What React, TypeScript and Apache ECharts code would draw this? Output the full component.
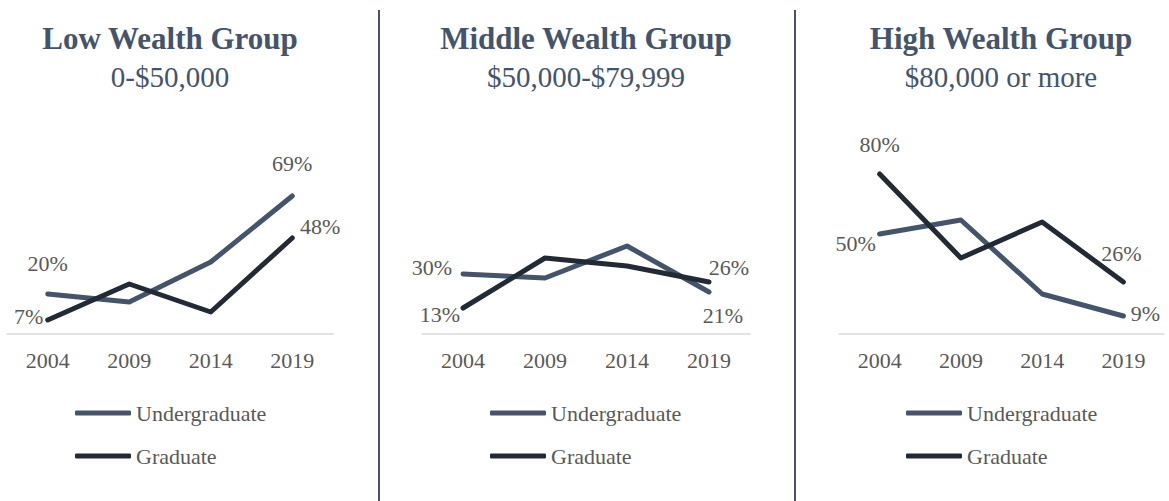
import React, { useEffect, useRef } from "react";
import * as echarts from "echarts";

const years = ["2004", "2009", "2014", "2019"];
const seriesNames = ["Undergraduate", "Graduate"];
const panelTitles = ["Low Wealth Group", "Middle Wealth Group", "High Wealth Group"];
const panelSubtitles = ["0-$50,000", "$50,000-$79,999", "$80,000 or more"];

const lowUndergrad = [20, 16, 36, 69];
const lowGraduate = [7, 25, 11, 48];
const midUndergrad = [30, 28, 44, 21];
const midGraduate = [13, 38, 34, 26];
const highUndergrad = [50, 57, 20, 9];
const highGraduate = [80, 38, 56, 26];

const panelData = [
  [lowUndergrad, lowGraduate],
  [midUndergrad, midGraduate],
  [highUndergrad, highGraduate],
];

// label offsets (style, by panel / series / point index)
const labelOffsets: Record<number, [number, number]>[][] = [
  [
    { 0: [0, -31], 3: [0, -33] },
    { 0: [-19, -4], 3: [28, -12] },
  ],
  [
    { 0: [-31, -7], 3: [14, 23] },
    { 0: [-23, 6], 3: [20, -15] },
  ],
  [
    { 0: [-24, 9], 3: [22, -3] },
    { 0: [0, -30], 3: [-2, -29] },
  ],
];

const FONT = "'Liberation Serif', 'Times New Roman', serif";
const COLORS = ["#44546a", "#222a35"];
const LABEL_COLOR = "#595959";

const grids = [
  { left: 7, width: 326 },
  { left: 422, width: 328 },
  { left: 839, width: 325 },
];
const centers = [170, 586, 1001];
const legendLefts = [75, 490, 906];
const separators = [379, 795];

export default function App() {
  const ref = useRef<HTMLDivElement>(null);
  useEffect(() => {
    if (!ref.current) return;
    const chart = echarts.init(ref.current, undefined, { renderer: "svg" });
    const series: any[] = [];
    panelData.forEach((pair, p) => {
      pair.forEach((vals, s) => {
        series.push({
          type: "line",
          name: seriesNames[s],
          xAxisIndex: p,
          yAxisIndex: p,
          symbol: "circle",
          symbolSize: 2,
          z: 2 + s,
          itemStyle: { color: COLORS[s] },
          lineStyle: { color: COLORS[s], width: 5, cap: "round", join: "round" },
          label: {
            show: false,
            position: "inside",
            formatter: "{c}%",
            fontFamily: FONT,
            fontSize: 22,
            color: LABEL_COLOR,
          },
          data: vals.map((v, i) => {
            const off = labelOffsets[p][s][i];
            return off
              ? { value: v, label: { show: true, offset: off } }
              : { value: v };
          }),
        });
      });
    });

    const graphic: any[] = [];
    separators.forEach((x) => {
      graphic.push({
        type: "line",
        shape: { x1: x, y1: 10, x2: x, y2: 501 },
        style: { stroke: "#44546a", lineWidth: 2 },
      });
    });
    centers.forEach((cx, i) => {
      graphic.push({
        type: "text",
        x: cx,
        y: 38,
        style: {
          text: panelTitles[i],
          align: "center",
          verticalAlign: "middle",
          font: `bold 31px ${FONT}`,
          fill: "#44546a",
        },
      });
      graphic.push({
        type: "text",
        x: cx,
        y: 77,
        style: {
          text: panelSubtitles[i],
          align: "center",
          verticalAlign: "middle",
          font: `29px ${FONT}`,
          fill: "#44546a",
        },
      });
    });

    chart.setOption({
      animation: false,
      grid: grids.map((g) => ({ left: g.left, width: g.width, top: 134, bottom: 167 })),
      xAxis: grids.map((_, i) => ({
        type: "category",
        gridIndex: i,
        data: years,
        boundaryGap: true,
        axisTick: { show: false },
        axisLine: { lineStyle: { color: "#d9d9d9", width: 1.5 } },
        axisLabel: { fontFamily: FONT, fontSize: 22, color: LABEL_COLOR, margin: 15 },
      })),
      yAxis: grids.map((_, i) => ({
        type: "value",
        gridIndex: i,
        min: 0,
        max: 100,
        show: false,
        splitLine: { show: false },
      })),
      legend: legendLefts.map((l) => ({
        orient: "vertical",
        left: l,
        top: 402,
        padding: 0,
        itemWidth: 56,
        itemHeight: 5,
        itemGap: 21,
        icon: "roundRect",
        selectedMode: false,
        textStyle: { fontFamily: FONT, fontSize: 22, color: LABEL_COLOR },
        data: seriesNames,
      })),
      graphic,
      series,
    });
    return () => chart.dispose();
  }, []);
  return (
    <div
      ref={ref}
      style={{ position: "fixed", left: 0, top: 0, width: 1169, height: 501, background: "#fff" }}
    />
  );
}
